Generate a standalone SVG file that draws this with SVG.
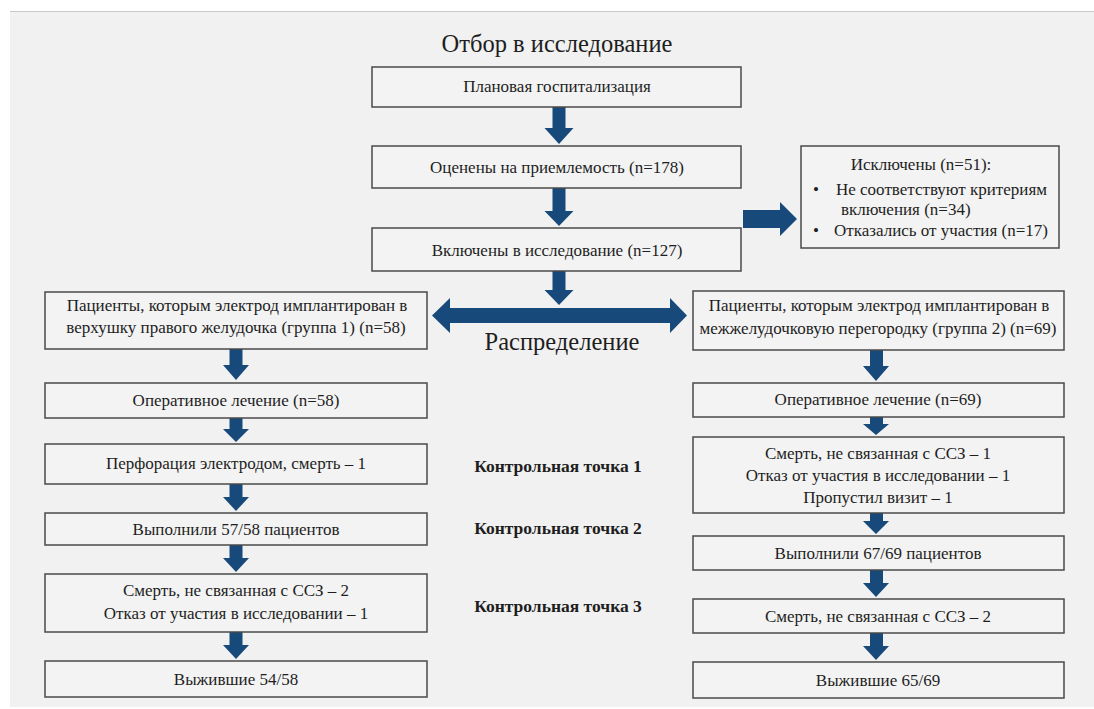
<svg xmlns="http://www.w3.org/2000/svg" width="1094" height="709" viewBox="0 0 1094 709">
<style>
.box{fill:#f3f3f3;stroke:#4a4a4a;stroke-width:1.5}
.t{font-family:"Liberation Serif","Times New Roman",serif;font-size:17px;fill:#1e1e1e;text-anchor:middle}
.tl{font-family:"Liberation Serif","Times New Roman",serif;font-size:17px;fill:#1e1e1e}
.big{font-family:"Liberation Serif","Times New Roman",serif;font-size:24.5px;fill:#1e1e1e;text-anchor:middle}
.cp{font-family:"Liberation Serif","Times New Roman",serif;font-size:17.5px;font-weight:bold;fill:#1e1e1e;text-anchor:middle}
.ar{fill:#174a7b}
</style>
<rect x="0" y="0" width="1094" height="709" fill="#ffffff"/>
<rect x="10" y="11" width="1084" height="696" fill="#f1f1f1"/>
<line x1="10" y1="11.5" x2="1094" y2="11.5" stroke="#c8c8c8" stroke-width="1"/>

<text class="big" x="557" y="52">Отбор в исследование</text>
<text class="big" x="562" y="350">Распределение</text>

<g id="connectors">
<polygon class="ar" points="552.5,107 565.5,107 565.5,128 573.5,128 559,144 544.5,128 552.5,128"/>
<polygon class="ar" points="552.5,188 565.5,188 565.5,211 573.5,211 559,226 544.5,211 552.5,211"/>
<polygon class="ar" points="552.5,271 565.5,271 565.5,290 573.5,290 559,305 544.5,290 552.5,290"/>
<polygon class="ar" points="743,210 780,210 780,202 797,219 780,236 780,228 743,228"/>
<polygon class="ar" points="432,315.5 450,298 450,308 670,308 670,298 687,315.5 670,333 670,323 450,323 450,333"/>
<polygon class="ar" points="229.5,349 242.5,349 242.5,365 249,365 236,380 223,365 229.5,365"/>
<polygon class="ar" points="229.5,418 242.5,418 242.5,429 249,429 236,442 223,429 229.5,429"/>
<polygon class="ar" points="229.5,484 242.5,484 242.5,497 249,497 236,511 223,497 229.5,497"/>
<polygon class="ar" points="229.5,545 242.5,545 242.5,558 249,558 236,572 223,558 229.5,558"/>
<polygon class="ar" points="229.5,632 242.5,632 242.5,645 249,645 236,659 223,645 229.5,645"/>
<polygon class="ar" points="870,350 883,350 883,366 889,366 876,381 863,366 870,366"/>
<polygon class="ar" points="870,417 883,417 883,424 889,424 876,435 863,424 870,424"/>
<polygon class="ar" points="870,513 883,513 883,521 889,521 876,534 863,521 870,521"/>
<polygon class="ar" points="870,570 883,570 883,583 889,583 876,597 863,583 870,583"/>
<polygon class="ar" points="870,633 883,633 883,646 889,646 876,660 863,646 870,646"/>
</g>

<g id="n-plan"><rect class="box" x="372" y="67" width="369" height="40"/><text class="t" x="557" y="92">Плановая госпитализация</text></g>
<g id="n-eval"><rect class="box" x="372" y="146" width="369" height="42"/><text class="t" x="557" y="173">Оценены на приемлемость (n=178)</text></g>
<g id="n-incl"><rect class="box" x="372" y="228" width="369" height="43"/><text class="t" x="557" y="256">Включены в исследование (n=127)</text></g>
<g id="n-excl"><rect class="box" x="801" y="146" width="258" height="102"/>
<text class="t" x="921" y="170">Исключены (n=51):</text>
<text class="tl" x="813" y="195">•</text><text class="tl" x="836" y="195">Не соответствуют критериям</text>
<text class="tl" x="841" y="215">включения (n=34)</text>
<text class="tl" x="813" y="236">•</text><text class="tl" x="834" y="236">Отказались от участия (n=17)</text>
</g>

<g id="n-g1"><rect class="box" x="45" y="292" width="382" height="57"/>
<text class="t" x="237" y="311">Пациенты, которым электрод имплантирован в</text>
<text class="t" x="236" y="333">верхушку правого желудочка (группа 1) (n=58)</text></g>
<g id="n-g2"><rect class="box" x="693" y="291" width="371" height="59"/>
<text class="t" x="879" y="311">Пациенты, которым электрод имплантирован в</text>
<text class="t" x="878" y="334">межжелудочковую перегородку (группа 2) (n=69)</text></g>

<g id="n-l1"><rect class="box" x="45" y="383" width="382" height="35"/><text class="t" x="236" y="406">Оперативное лечение (n=58)</text></g>
<g id="n-l2"><rect class="box" x="45" y="444" width="382" height="40"/><text class="t" x="236" y="469">Перфорация электродом, смерть – 1</text></g>
<g id="n-l3"><rect class="box" x="45" y="513" width="382" height="32"/><text class="t" x="236" y="535">Выполнили 57/58 пациентов</text></g>
<g id="n-l4"><rect class="box" x="45" y="574" width="382" height="58"/>
<text class="t" x="236" y="596">Смерть, не связанная с ССЗ – 2</text>
<text class="t" x="236" y="619">Отказ от участия в исследовании – 1</text></g>
<g id="n-l5"><rect class="box" x="45" y="661" width="382" height="36"/><text class="t" x="236" y="685">Выжившие 54/58</text></g>

<g id="n-r1"><rect class="box" x="693" y="383" width="371" height="34"/><text class="t" x="878" y="405">Оперативное лечение (n=69)</text></g>
<g id="n-r2"><rect class="box" x="693" y="437" width="371" height="76"/>
<text class="t" x="878" y="459">Смерть, не связанная с ССЗ – 1</text>
<text class="t" x="878" y="481">Отказ от участия в исследовании – 1</text>
<text class="t" x="878" y="503">Пропустил визит – 1</text></g>
<g id="n-r3"><rect class="box" x="693" y="536" width="371" height="34"/><text class="t" x="878" y="559">Выполнили 67/69 пациентов</text></g>
<g id="n-r4"><rect class="box" x="693" y="599" width="371" height="34"/><text class="t" x="878" y="622">Смерть, не связанная с ССЗ – 2</text></g>
<g id="n-r5"><rect class="box" x="693" y="662" width="371" height="36"/><text class="t" x="878" y="686">Выжившие 65/69</text></g>

<g id="cp1"><text class="cp" x="558" y="472">Контрольная точка 1</text></g>
<g id="cp2"><text class="cp" x="558" y="534">Контрольная точка 2</text></g>
<g id="cp3"><text class="cp" x="558" y="612">Контрольная точка 3</text></g>
</svg>
